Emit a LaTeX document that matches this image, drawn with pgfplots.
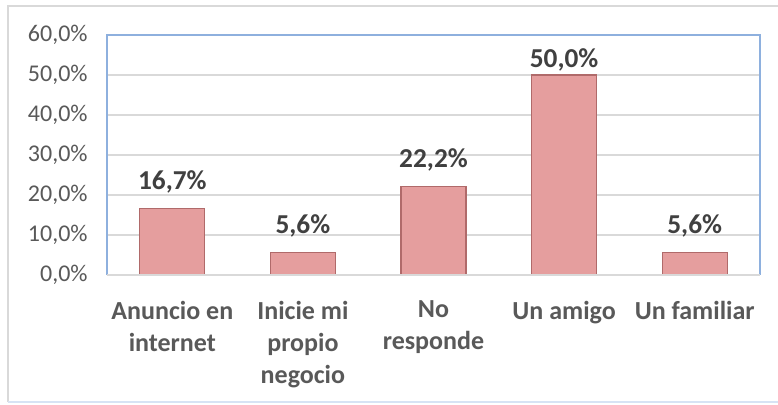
\documentclass[border=0pt]{standalone}
\usepackage{pgfplots}
\pgfplotsset{compat=1.18}
\usepackage{fontspec}
\setmainfont{Carlito}
\definecolor{barfill}{RGB}{229,158,158}
\definecolor{baredge}{RGB}{176,106,106}
\definecolor{frameblue}{RGB}{142,176,222}
\definecolor{gridgray}{RGB}{217,217,217}
\definecolor{ticktext}{RGB}{89,89,89}
\definecolor{labeltext}{RGB}{64,64,64}

\begin{document}
\begin{tikzpicture}
\useasboundingbox (0,0) rectangle (583.5pt,303pt);
\clip (0,0) rectangle (583.5pt,303pt);
\fill[white] (0,0) rectangle (583.5pt,303pt);
% outer chart border
\draw[line width=1.5pt, gridgray] (6pt,1.5pt) -- (6pt,298.5pt) -- (600pt,298.5pt);
\draw[line width=1.5pt, frameblue!35] (6pt,1.5pt) -- (600pt,1.5pt);
\begin{axis}[
    at={(80.25pt,96.75pt)}, anchor=south west,
    scale only axis,
    width=489.75pt, height=180pt,
    ybar, bar width=48.75pt,
    xmin=-0.5, xmax=4.5,
    ymin=0, ymax=60,
    ytick={0,10,20,30,40,50,60},
    xtick={0,1,2,3,4},
    xticklabels={{Anuncio en\\internet},{Inicie mi\\propio\\negocio},{No\\responde},{Un amigo},{Un familiar}},
    x tick label style={align=center, font=\fontsize{19.5}{24}\selectfont\bfseries, text=ticktext, yshift=-16pt},
    /pgf/number format/assume math mode=true,
    yticklabel={\pgfmathprintnumber[fixed,fixed zerofill,precision=1,use comma]{\tick}\%},
    y tick label style={font=\fontsize{18}{20}\selectfont, text=ticktext, xshift=-11pt},
    major tick length=0pt,
    ymajorgrids, grid style={gridgray, line width=0.8pt},
    axis line style={draw=none},
    nodes near coords,
    point meta=explicit symbolic,
    every node near coord/.append style={font=\fontsize{20.5}{22}\selectfont\bfseries, text=labeltext, yshift=7.5pt},
    clip=false,
]
\addplot[fill=barfill, draw=baredge, line width=0.8pt] coordinates {
    (0,16.7) [16,7\%]
    (1,5.6)  [5,6\%]
    (2,22.2) [22,2\%]
    (3,50.0) []
    (4,5.6)  [5,6\%]
};
% label of the tallest bar sits closer to its bar, as in the original
\node[above, font=\fontsize{20.5}{22}\selectfont\bfseries, text=labeltext, yshift=-1pt] at (axis cs:3,50) {50,0\%};
\draw[frameblue, line width=1pt] (rel axis cs:0,0) -- (rel axis cs:0,1) -- (rel axis cs:1,1) -- (rel axis cs:1,0);
\draw[gridgray, line width=1pt] (rel axis cs:0,0) -- (rel axis cs:1,0);
\end{axis}
\end{tikzpicture}
\end{document}
